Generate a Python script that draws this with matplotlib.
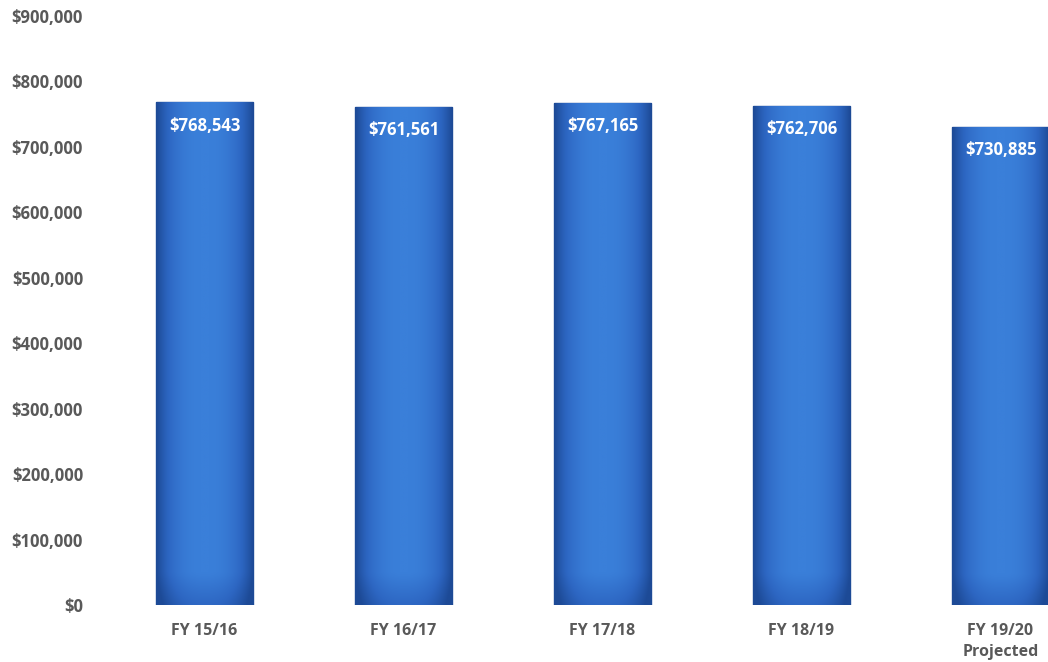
import matplotlib
matplotlib.use("Agg")
import matplotlib.pyplot as plt
import numpy as np
from matplotlib.colors import LinearSegmentedColormap

categories = ["FY 15/16", "FY 16/17", "FY 17/18", "FY 18/19", "FY 19/20\nProjected"]
values = [768543, 761561, 767165, 762706, 730885]
value_labels = ["$768,543", "$761,561", "$767,165", "$762,706", "$730,885"]
yticks = [0, 100000, 200000, 300000, 400000, 500000, 600000, 700000, 800000, 900000]
ytick_labels = ["$0", "$100,000", "$200,000", "$300,000", "$400,000", "$500,000",
                "$600,000", "$700,000", "$800,000", "$900,000"]

W, H = 1048, 662
fig = plt.figure(figsize=(W / 100, H / 100), dpi=100)
L, R = 105, 1048
B, T = 605, 16
ax = fig.add_axes([L / W, (H - B) / H, (R - L) / W, (B - T) / H])

step = 199.0
ax.set_xlim(-0.5, -0.5 + (R - L) / step)
ax.set_ylim(0, 900000)

font = "Open Sans"
txtcol = "#595959"

x = np.arange(len(values))
bars = ax.bar(x, values, width=0.49, color="#3572cf", edgecolor="#23509c", linewidth=1.0, zorder=2)

# horizontal gradient overlay (darker edges, lighter center) + darker bottom
nx, ny = 64, 128
gx = np.linspace(-1, 1, nx)
hprof = 1 - 0.55 * np.abs(gx) ** 2.5
gy = np.linspace(0, 1, ny)
vprof = np.where(gy < 0.06, 0.75 + 0.25 * gy / 0.06, 1.0)
img = np.outer(vprof, hprof)
cmap = LinearSegmentedColormap.from_list("b", ["#1d4a96", "#2d66c2", "#3a7fd9"])
for i, b in enumerate(bars):
    x0, w, h = b.get_x(), b.get_width(), b.get_height()
    im = ax.imshow(img, extent=[x0, x0 + w, 0, h], origin="lower", aspect="auto",
                   cmap=cmap, vmin=0.45, vmax=1.0, zorder=2.5, interpolation="bilinear")
    im.set_clip_path(b)
    ax.text(x0 + w / 2, h - 36000, value_labels[i], ha="center", va="center",
            color="white", fontsize=12, fontweight="bold", family=font, zorder=4)

ax.set_xticks(x)
ax.set_xticklabels(categories, fontsize=11.5, fontweight="bold", family=font, color=txtcol,
                   linespacing=1.45, va="top")
ax.set_yticks(yticks)
ax.set_yticklabels(ytick_labels, fontsize=12, fontweight="bold", family=font, color=txtcol)
ax.tick_params(axis="both", length=0)
ax.tick_params(axis="y", pad=15.8)
ax.tick_params(axis="x", pad=13)
for s in ax.spines.values():
    s.set_visible(False)
ax.set_facecolor("white")

fig.savefig("out.png", dpi=100, facecolor="white")
